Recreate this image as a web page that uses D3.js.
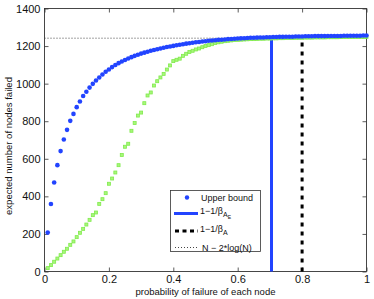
<!DOCTYPE html>
<html>
<head>
<meta charset="utf-8">
<script src="https://cdn.jsdelivr.net/npm/d3@7"></script>
<style>
  body { margin: 0; background: #fff; }
  svg { display: block; font-family: "Liberation Sans", Arial, sans-serif; }
</style>
</head>
<body>
<script>
// probability of failure of each node, 0.01 .. 1.00
var probs = d3.range(1, 101).map(function(i) { return i / 100; });

// upper bound (blue dots)
var upperBound = [
  207, 359, 474, 566, 641, 703, 754, 802, 839, 875,
  905, 934, 957, 979, 999, 1017, 1033, 1049, 1063, 1075,
  1088, 1099, 1109, 1118, 1126, 1134, 1141, 1148, 1154, 1160,
  1165, 1170, 1175, 1179, 1183, 1187, 1191, 1195, 1198, 1201,
  1204, 1207, 1210, 1213, 1215, 1218, 1220, 1222, 1224, 1226,
  1228, 1230, 1231, 1233, 1234, 1235, 1237, 1238, 1239, 1240,
  1241, 1242, 1243, 1244, 1244, 1245, 1246, 1246, 1247, 1247,
  1248, 1248, 1249, 1249, 1250, 1250, 1250, 1251, 1251, 1251,
  1252, 1252, 1252, 1253, 1253, 1253, 1253, 1254, 1254, 1254,
  1254, 1254, 1255, 1255, 1255, 1255, 1255, 1255, 1256, 1256
];

// simulated (green markers)
var simulated = [
  18, 34, 52, 69, 87, 105, 121, 142, 160, 183,
  206, 227, 250, 275, 300, 314, 360, 385, 417, 467,
  495, 527, 566, 620, 664, 680, 749, 790, 830, 846,
  896, 937, 953, 990, 1013, 1033, 1052, 1075, 1097, 1120,
  1127, 1133, 1148, 1159, 1168, 1175, 1182, 1187, 1194, 1200,
  1205, 1210, 1216, 1220, 1223, 1226, 1228, 1230, 1232, 1233,
  1234, 1235, 1236, 1237, 1237, 1238, 1239, 1239, 1240, 1240,
  1241, 1241, 1242, 1242, 1243, 1243, 1243, 1244, 1244, 1244,
  1245, 1245, 1245, 1246, 1246, 1246, 1246, 1247, 1247, 1247,
  1247, 1248, 1248, 1248, 1248, 1248, 1249, 1249, 1249, 1249
];

var betaAc = 0.705;   // 1-1/beta_{A_E}
var betaA = 0.8;      // 1-1/beta_A
var nLine = 1242;     // N - 2*log(N)

var xTicks = [0, 0.2, 0.4, 0.6, 0.8, 1];
var yTicks = [0, 200, 400, 600, 800, 1000, 1200, 1400];

var W = 374, H = 299;
var pLeft = 44.5, pTop = 8.5, pRight = 366.5, pBottom = 271.5;

var svg = d3.select('body').append('svg')
  .attr('width', W)
  .attr('height', H);

var x = d3.scaleLinear().domain([0, 1]).range([pLeft, pRight]);
var y = d3.scaleLinear().domain([0, 1400]).range([pBottom, pTop]);

var fmt = function(d) { return String(d); };

// axes with inward ticks (matlab style)
svg.append('g')
  .attr('transform', 'translate(0,' + pBottom + ')')
  .call(d3.axisBottom(x).tickValues(xTicks).tickSize(-4).tickPadding(4).tickFormat(fmt));
svg.append('g')
  .attr('transform', 'translate(0,' + pTop + ')')
  .call(d3.axisTop(x).tickValues(xTicks).tickSize(-4).tickFormat(''));
svg.append('g')
  .attr('transform', 'translate(' + pLeft + ',0)')
  .call(d3.axisLeft(y).tickValues(yTicks).tickSize(-4).tickPadding(4).tickFormat(fmt));
svg.append('g')
  .attr('transform', 'translate(' + pRight + ',0)')
  .call(d3.axisRight(y).tickValues(yTicks).tickSize(-4).tickFormat(''));

svg.selectAll('.domain').remove();
svg.selectAll('.tick line').attr('stroke', '#333').attr('stroke-width', 0.8);
svg.selectAll('.tick text')
  .attr('font-size', '11px')
  .attr('fill', '#111')
  .attr('font-family', '"Liberation Sans", Arial, sans-serif');

// box
svg.append('rect')
  .attr('x', pLeft).attr('y', pTop)
  .attr('width', pRight - pLeft).attr('height', pBottom - pTop)
  .attr('fill', 'none')
  .attr('stroke', '#333')
  .attr('stroke-width', 0.9);

// N - 2*log(N) dotted line
svg.append('line')
  .attr('x1', x(0)).attr('x2', x(1))
  .attr('y1', y(nLine)).attr('y2', y(nLine))
  .attr('stroke', '#444')
  .attr('stroke-width', 1)
  .attr('stroke-dasharray', '1,2');

// vertical lines
svg.append('line')
  .attr('x1', x(betaAc)).attr('x2', x(betaAc))
  .attr('y1', y(0)).attr('y2', y(nLine))
  .attr('stroke', '#2244ff')
  .attr('stroke-width', 3);

svg.append('line')
  .attr('x1', x(betaA)).attr('x2', x(betaA))
  .attr('y1', y(0)).attr('y2', y(nLine))
  .attr('stroke', '#000')
  .attr('stroke-width', 3)
  .attr('stroke-dasharray', '4,5');

// green markers
svg.append('g').selectAll('rect')
  .data(simulated)
  .enter()
  .append('rect')
  .attr('x', function(d, i) { return x(probs[i]) - 1.5; })
  .attr('y', function(d) { return y(d) - 1.5; })
  .attr('width', 3)
  .attr('height', 3)
  .attr('fill', '#a6f77a')
  .attr('stroke', '#80ea4c')
  .attr('stroke-width', 0.8);

// blue dots
svg.append('g').selectAll('circle')
  .data(upperBound)
  .enter()
  .append('circle')
  .attr('cx', function(d, i) { return x(probs[i]); })
  .attr('cy', function(d) { return y(d); })
  .attr('r', 2.3)
  .attr('fill', '#2244ff');

// legend
var lg = svg.append('g');
lg.append('rect')
  .attr('x', 170.5).attr('y', 190.5)
  .attr('width', 90).attr('height', 61)
  .attr('fill', '#fff')
  .attr('stroke', '#333')
  .attr('stroke-width', 0.8);

lg.append('circle').attr('cx', 187).attr('cy', 197.5).attr('r', 2.2).attr('fill', '#2244ff');
lg.append('line').attr('x1', 174).attr('x2', 198).attr('y1', 213.5).attr('y2', 213.5)
  .attr('stroke', '#2244ff').attr('stroke-width', 3);
lg.append('line').attr('x1', 175).attr('x2', 198).attr('y1', 231).attr('y2', 231)
  .attr('stroke', '#000').attr('stroke-width', 3).attr('stroke-dasharray', '4,3.5');
lg.append('line').attr('x1', 175).attr('x2', 198).attr('y1', 247.5).attr('y2', 247.5)
  .attr('stroke', '#444').attr('stroke-width', 1).attr('stroke-dasharray', '1,2');

var lt = lg.append('g').attr('font-size', '9px').attr('fill', '#111');
lt.append('text').attr('x', 201).attr('y', 200.5).text('Upper bound');

var t2 = lt.append('text').attr('x', 200).attr('y', 213.5);
t2.append('tspan').text('1\u22121/\u03b2');
t2.append('tspan').attr('dy', 3).attr('font-size', '7px').text('A');
t2.append('tspan').attr('dy', 2.5).attr('font-size', '5px').text('E');

var t3 = lt.append('text').attr('x', 200).attr('y', 231.5);
t3.append('tspan').text('1\u22121/\u03b2');
t3.append('tspan').attr('dy', 3).attr('font-size', '7px').text('A');

lt.append('text').attr('x', 202).attr('y', 250.5).text('N \u2212 2*log(N)');

// axis labels
svg.append('text')
  .attr('x', (pLeft + pRight) / 2)
  .attr('y', 295)
  .attr('text-anchor', 'middle')
  .attr('font-size', '9.5px')
  .attr('fill', '#111')
  .text('probability of failure of each node');

svg.append('text')
  .attr('transform', 'translate(12,' + ((pTop + pBottom) / 2 + 6) + ') rotate(-90)')
  .attr('text-anchor', 'middle')
  .attr('font-size', '9.5px')
  .attr('fill', '#111')
  .text('expected number of nodes failed');
</script>
</body>
</html>
